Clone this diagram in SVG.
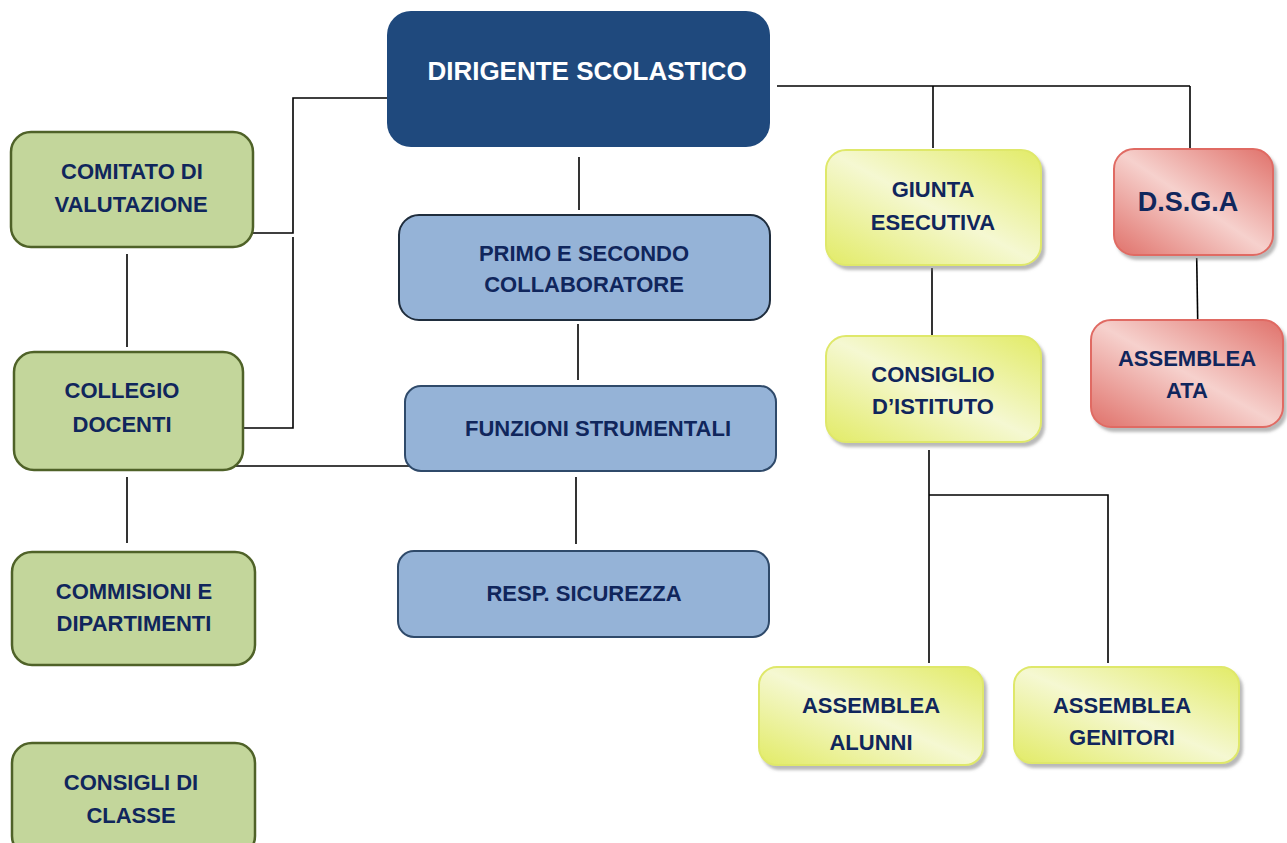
<svg xmlns="http://www.w3.org/2000/svg" width="1287" height="843" viewBox="0 0 1287 843">
<style>
.t{font-family:"Liberation Sans",Arial,sans-serif;font-weight:bold;font-size:22px;fill:#10265c;text-anchor:middle}
.w{fill:#ffffff;font-size:26px}
.g{fill:#c3d69b;stroke:#4f6228;stroke-width:2.5}
.b{fill:#95b3d7;stroke:#1f2d3d;stroke-width:2}
.b2{fill:#95b3d7;stroke:#2f4a6a;stroke-width:2}
.y{fill:url(#gy);stroke:#dfe86a;stroke-width:2;filter:url(#sh)}
.r{fill:url(#gr);stroke:#e06b63;stroke-width:2;filter:url(#sh)}
.c line,.c polyline{stroke:#000;stroke-width:1.6;fill:none}
</style>
<defs>
<linearGradient id="gy" x1="1" y1="0" x2="0" y2="1">
<stop offset="0" stop-color="#e2eb66"/>
<stop offset="0.5" stop-color="#f5f8d2"/>
<stop offset="1" stop-color="#e2eb66"/>
</linearGradient>
<linearGradient id="gr" x1="1" y1="0" x2="0" y2="1">
<stop offset="0" stop-color="#e0716a"/>
<stop offset="0.5" stop-color="#f6d1cd"/>
<stop offset="1" stop-color="#e0716a"/>
</linearGradient>
<filter id="sh" x="-10%" y="-10%" width="125%" height="130%">
<feDropShadow dx="3" dy="4" stdDeviation="1.5" flood-color="#808080" flood-opacity="0.55"/>
</filter>
</defs>
<g class="c" id="connectors">
<polyline points="387,98 293,98 293,233 253,233"/>
<polyline points="293,237 293,428 243,428"/>
<line x1="235" y1="466" x2="414" y2="466"/>
<line x1="127" y1="254" x2="127" y2="347"/>
<line x1="127" y1="477" x2="127" y2="543"/>
<line x1="579" y1="157" x2="579" y2="210"/>
<line x1="578" y1="324" x2="578" y2="380"/>
<line x1="576" y1="477" x2="576" y2="544"/>
<line x1="777" y1="86" x2="1190" y2="86"/>
<line x1="933" y1="86" x2="933" y2="148"/>
<line x1="1190" y1="86" x2="1190" y2="148"/>
<line x1="932" y1="268" x2="932" y2="335"/>
<line x1="1196.7" y1="258" x2="1197.7" y2="320"/>
<line x1="929" y1="450" x2="929" y2="663"/>
<polyline points="929,495 1108,495 1108,663"/>
</g>
<g id="dirigente"><rect x="387" y="11" width="383" height="136" rx="24" fill="#1f497d"/><text class="t w" x="587" y="80">DIRIGENTE SCOLASTICO</text></g>
<g id="comitato"><rect class="g" x="11" y="132" width="242" height="115" rx="20"/><text class="t" x="132" y="179">COMITATO DI</text><text class="t" x="131" y="212">VALUTAZIONE</text></g>
<g id="collegio"><rect class="g" x="14" y="352" width="229" height="118" rx="20"/><text class="t" x="122" y="398">COLLEGIO</text><text class="t" x="122" y="432">DOCENTI</text></g>
<g id="commisioni"><rect class="g" x="12" y="552" width="243" height="113" rx="20"/><text class="t" x="134" y="599">COMMISIONI E</text><text class="t" x="134" y="631">DIPARTIMENTI</text></g>
<g id="consigli"><rect class="g" x="12" y="743" width="243" height="113" rx="20"/><text class="t" x="131" y="790">CONSIGLI DI</text><text class="t" x="131" y="823">CLASSE</text></g>
<g id="primo"><rect class="b" x="399" y="215" width="371" height="105" rx="20"/><text class="t" x="584" y="261">PRIMO E SECONDO</text><text class="t" x="584" y="292">COLLABORATORE</text></g>
<g id="funzioni"><rect class="b2" x="405" y="386" width="371" height="85" rx="16"/><text class="t" x="598" y="436">FUNZIONI STRUMENTALI</text></g>
<g id="resp"><rect class="b2" x="398" y="551" width="371" height="86" rx="16"/><text class="t" x="584" y="601">RESP. SICUREZZA</text></g>
<g id="giunta"><rect class="y" x="826" y="150" width="215" height="115" rx="20"/><text class="t" x="933" y="197">GIUNTA</text><text class="t" x="933" y="230">ESECUTIVA</text></g>
<g id="consiglio"><rect class="y" x="826" y="336" width="215" height="106" rx="20"/><text class="t" x="933" y="382">CONSIGLIO</text><text class="t" x="933" y="414">D’ISTITUTO</text></g>
<g id="dsga"><rect class="r" x="1114" y="149" width="159" height="106" rx="20"/><text class="t" x="1188" y="211" style="font-size:27px">D.S.G.A</text></g>
<g id="ata"><rect class="r" x="1091" y="320" width="192" height="107" rx="20"/><text class="t" x="1187" y="366">ASSEMBLEA</text><text class="t" x="1187" y="398">ATA</text></g>
<g id="alunni"><rect class="y" x="759" y="667" width="224" height="98" rx="18"/><text class="t" x="871" y="713">ASSEMBLEA</text><text class="t" x="871" y="750">ALUNNI</text></g>
<g id="genitori"><rect class="y" x="1014" y="667" width="225" height="96" rx="18"/><text class="t" x="1122" y="713">ASSEMBLEA</text><text class="t" x="1122" y="745">GENITORI</text></g>
</svg>
